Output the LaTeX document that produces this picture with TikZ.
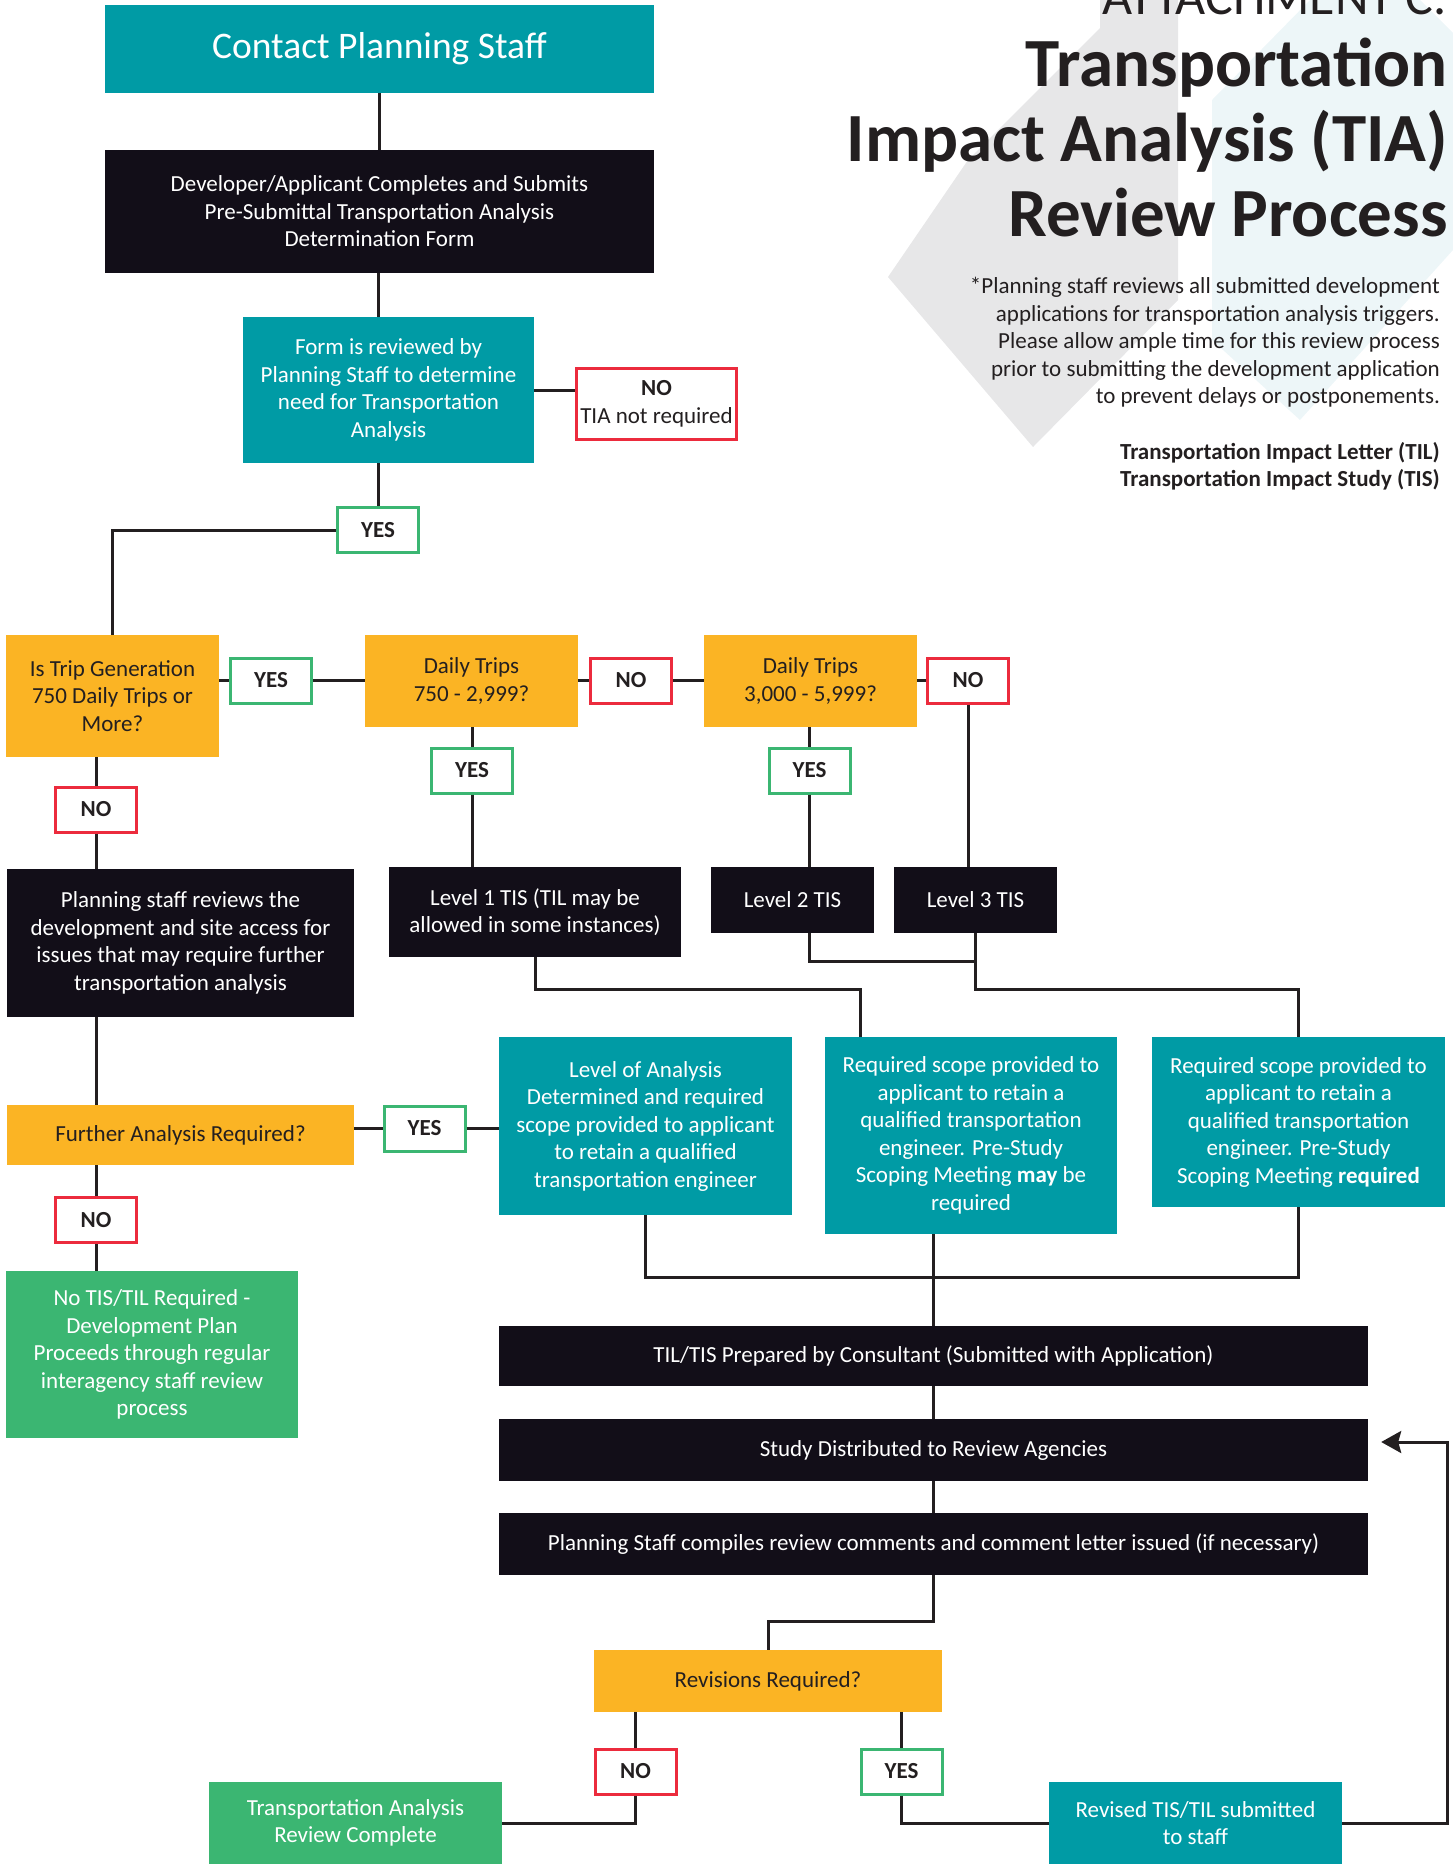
\documentclass[tikz,border=0pt]{standalone}
\usepackage{fontspec}
\setmainfont{Carlito}
\usetikzlibrary{calc}
\usetikzlibrary{arrows.meta}

\definecolor{tealc}{HTML}{009BA5}
\definecolor{darkc}{HTML}{120E18}
\definecolor{ambc}{HTML}{FBB424}
\definecolor{leafc}{HTML}{3BB672}
\definecolor{redc}{HTML}{EC2B3D}
\definecolor{inkc}{HTML}{231F20}
\definecolor{fogc}{HTML}{E7E7E8}
\definecolor{mistc}{HTML}{EDF6F8}

\newcommand{\boxsize}{\fontsize{23}{27.5}\selectfont}

\tikzset{
  box/.style={inner sep=0pt, align=center, font=\boxsize},
  tealbox/.style={box, fill=tealc, text=white},
  darkbox/.style={box, fill=darkc, text=white},
  askbox/.style={box, fill=ambc, text=inkc},
  endbox/.style={box, fill=leafc, text=white},
  yesbox/.style={box, draw=leafc, line width=3pt, fill=white, text=inkc,
    font=\boxsize\bfseries, minimum width=81pt, minimum height=45pt},
  nobox/.style={yesbox, draw=redc},
  link/.style={draw=inkc, line width=3pt}
}

\begin{document}
\begin{tikzpicture}[x=1pt, y=-1pt]
  \useasboundingbox (0,0) rectangle (1453,1864);

  % faint backdrop
  \fill[fogc] (888,277) -- (968,160) -- (1100,28) -- (1100,0) -- (1178,0) -- (1178,300) -- (1033,447) -- cycle;
  \fill[mistc] (1212,100) -- (1310,0) -- (1420,0) -- (1453,33) -- (1453,250) -- (1300,420) -- (1212,340) -- cycle;

  % heading and notes
  \node[anchor=base east, inner sep=0pt, text=inkc, font=\fontsize{52}{52}\selectfont] (attach) at (1447,14) {ATTACHMENT C.};
  \node[anchor=north east, inner sep=0pt, align=right, text=inkc, font={\fontsize{69}{75}\selectfont\bfseries}] (title) at (1448,38)
    {Transportation\\Impact Analysis (TIA)\\Review Process};
  \node[anchor=north east, inner sep=0pt, align=right, text=inkc, font=\fontsize{23}{27.6}\selectfont] (notes) at (1440,277)
    {*Planning staff reviews all submitted development\\applications for transportation analysis triggers.\\Please allow ample time for this review process\\prior to submitting the development application\\to prevent delays or postponements.};
  \node[anchor=north east, inner sep=0pt, align=right, text=inkc, font={\fontsize{23}{27.5}\selectfont\bfseries}] (terms) at (1440,442)
    {Transportation Impact Letter (TIL)\\Transportation Impact Study (TIS)};

  % top of the flow
  \node[tealbox, minimum width=549pt, minimum height=88pt, font=\fontsize{37.5}{40}\selectfont] (contact) at (379.5,49) {\raisebox{4pt}{Contact Planning Staff}};
  \node[darkbox, minimum width=549pt, minimum height=123pt] (devform) at (379.5,211.5)
    {Developer/Applicant Completes and Submits\\Pre-Submittal Transportation Analysis\\Determination Form};
  \node[tealbox, minimum width=291pt, minimum height=146pt] (review) at (388.5,390)
    {Form is reviewed by\\Planning Staff to determine\\need for Transportation\\Analysis};
  \node[nobox, minimum width=160pt, minimum height=71pt, font=\boxsize] (notreq) at (656.5,404) {\textbf{NO}\\TIA not required};
  \node[yesbox] (yes0) at (378,530) {YES};

  % trip generation tests
  \node[askbox, minimum width=213pt, minimum height=122pt] (tripgen) at (112.5,696) {Is Trip Generation\\750 Daily Trips or\\More?};
  \node[yesbox] (yes1) at (271,680.5) {YES};
  \node[askbox, minimum width=213pt, minimum height=92pt] (daily1) at (471.5,681) {Daily Trips\\750 - 2,999?};
  \node[nobox] (no1) at (631,680.5) {NO};
  \node[askbox, minimum width=213pt, minimum height=92pt] (daily2) at (810.5,681) {Daily Trips\\3,000 - 5,999?};
  \node[nobox] (no2) at (968,680.5) {NO};
  \node[yesbox] (yes2) at (472,770.5) {YES};
  \node[yesbox] (yes3) at (809.5,770.5) {YES};
  \node[nobox] (no0) at (96,809.5) {NO};

  \node[darkbox, minimum width=347pt, minimum height=148pt] (staffrev) at (180.5,943)
    {Planning staff reviews the\\development and site access for\\issues that may require further\\transportation analysis};
  \node[darkbox, minimum width=292pt, minimum height=90pt] (level1) at (535,912) {Level 1 TIS (TIL may be\\allowed in some instances)};
  \node[darkbox, minimum width=163pt, minimum height=66pt] (level2) at (792.5,900) {Level 2 TIS};
  \node[darkbox, minimum width=163pt, minimum height=66pt] (level3) at (975.5,900) {Level 3 TIS};

  \node[askbox, minimum width=347pt, minimum height=60pt] (further) at (180.5,1135) {Further Analysis Required?};
  \node[yesbox] (yes4) at (424.5,1128.5) {YES};
  \node[nobox] (no3) at (96,1220) {NO};
  \node[tealbox, minimum width=293pt, minimum height=178pt] (scope0) at (645.5,1126)
    {Level of Analysis\\Determined and required\\scope provided to applicant\\to retain a qualified\\transportation engineer};
  \node[tealbox, minimum width=292pt, minimum height=197pt] (scope1) at (971,1135.5)
    {Required scope provided to\\applicant to retain a\\qualified transportation\\engineer. Pre-Study\\Scoping Meeting \textbf{may} be\\required};
  \node[tealbox, minimum width=293pt, minimum height=170pt] (scope2) at (1298.5,1122)
    {Required scope provided to\\applicant to retain a\\qualified transportation\\engineer. Pre-Study\\Scoping Meeting \textbf{required}};
  \node[endbox, minimum width=292pt, minimum height=167pt] (nodev) at (152,1354.5)
    {No TIS/TIL Required -\\Development Plan\\Proceeds through regular\\interagency staff review\\process};

  % study and review
  \node[darkbox, minimum width=869pt, minimum height=60pt] (prep) at (933.5,1356) {TIL/TIS Prepared by Consultant (Submitted with Application)};
  \node[darkbox, minimum width=869pt, minimum height=62pt] (distrib) at (933.5,1450) {Study Distributed to Review Agencies};
  \node[darkbox, minimum width=869pt, minimum height=62pt] (compile) at (933.5,1544) {Planning Staff compiles review comments and comment letter issued (if necessary)};
  \node[askbox, minimum width=348pt, minimum height=62pt] (revise) at (768,1681) {Revisions Required?};
  \node[nobox] (no4) at (635.5,1771.5) {NO};
  \node[yesbox] (yes5) at (901.5,1771.5) {YES};
  \node[endbox, minimum width=293pt, minimum height=82pt] (done) at (355.5,1823) {Transportation Analysis\\Review Complete};
  \node[tealbox, minimum width=293pt, minimum height=82pt] (resub) at (1195.5,1823) {Revised TIS/TIL submitted\\to staff};

  % connectors
  \draw[link] (contact.south) -- (contact.south |- devform.north);
  \draw[link] (yes0.north |- devform.south) -- (yes0.north |- review.north);
  \draw[link] (yes0.north |- review.south) -- (yes0.north);
  \draw[link] (review.east) -- (review.east -| notreq.west);
  \draw[link] (yes0.west) -| (tripgen.north);
  \draw[link] (yes1.west -| tripgen.east) -- (yes1.west);
  \draw[link] (yes1.east) -- (yes1.east -| daily1.west);
  \draw[link] (no1.west -| daily1.east) -- (no1.west);
  \draw[link] (no1.east) -- (no1.east -| daily2.west);
  \draw[link] (no2.west -| daily2.east) -- (no2.west);
  \draw[link] (yes2.north |- daily1.south) -- (yes2.north);
  \draw[link] (yes2.south) -- (yes2.south |- level1.north);
  \draw[link] (yes3.north |- daily2.south) -- (yes3.north);
  \draw[link] (yes3.south) -- (yes3.south |- level2.north);
  \draw[link] (no2.south) -- (no2.south |- level3.north);
  \draw[link] (no0.north |- tripgen.south) -- (no0.north);
  \draw[link] (no0.south) -- (no0.south |- staffrev.north);
  \draw[link] (no0.south |- staffrev.south) -- (no0.south |- further.north);
  \draw[link] (no3.north |- further.south) -- (no3.north);
  \draw[link] (no3.south) -- (no3.south |- nodev.north);
  \draw[link] (yes4.west -| further.east) -- (yes4.west);
  \draw[link] (yes4.east) -- (yes4.east -| scope0.west);

  \coordinate (lowjoin) at (860,989);
  \coordinate (midjoin) at (809,961);
  \draw[link] (level1.south) |- (lowjoin) -- (lowjoin |- scope1.north);
  \draw[link] (midjoin |- level2.south) -- (midjoin) -| (level3.south);
  \draw[link] (level3.south) |- (scope2.north |- lowjoin) -- (scope2.north);
  \draw[link] (scope0.south) |- ($(scope2.south)+(0,70)$) -- (scope2.south);
  \draw[link] (prep.north |- scope1.south) -- (prep.north);
  \draw[link] (prep.south) -- (distrib.north);
  \draw[link] (distrib.south) -- (compile.north);
  \draw[link] (compile.south) |- ($(revise.north)+(0,-28)$) -- (revise.north);
  \draw[link] (no4.north |- revise.south) -- (no4.north);
  \draw[link] (yes5.north |- revise.south) -- (yes5.north);
  \draw[link] (no4.south) |- (done.east);
  \draw[link] (yes5.south) |- (resub.west);

  \coordinate (backturn) at (1447,1442);
  \draw[link, -{Stealth[length=20pt, width=22pt, inset=3pt]}] (resub.east) -| (backturn) -- ($(distrib.east)+(13,-8)$);
\end{tikzpicture}
\end{document}
